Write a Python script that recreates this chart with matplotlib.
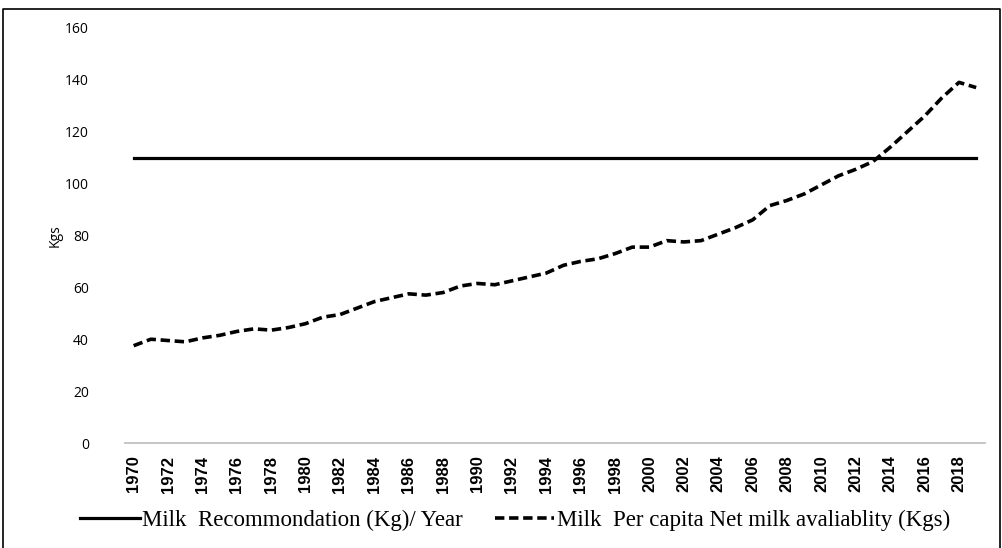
import matplotlib.pyplot as plt
from matplotlib.lines import Line2D

# data
years = list(range(1970, 2020))
recommendation = [110] * len(years)
per_capita = [37.5, 40, 39.5, 39, 40.5, 41.5, 43, 44, 43.5, 44.5,
              46, 48.5, 49.5, 52, 54.5, 56, 57.5, 57, 58, 60.5,
              61.5, 61, 62.5, 64, 65.5, 68.5, 70, 71, 73, 75.5,
              75.5, 78, 77.5, 78, 80.5, 83, 86, 91.5, 93.5, 96,
              99.5, 103, 105.5, 108.5, 114, 120, 126, 133, 139, 137]
yticks = [0, 20, 40, 60, 80, 100, 120, 140, 160]

fig = plt.figure(figsize=(10.02, 5.48), dpi=100)
ax = fig.add_axes([0.1248, 0.1916, 0.858, 0.7575])

x = range(len(years))
ax.plot(x, recommendation, color='black', linewidth=2.3,
        label='Milk  Recommondation (Kg)/ Year')
ax.plot(x, per_capita, color='black', linewidth=2.6, linestyle=(0, (2.6, 1.3)),
        label='Milk  Per capita Net milk avaliablity (Kgs)')

ax.set_xlim(-0.5, len(years) - 0.5)
ax.set_ylim(0, 160)
ax.set_yticks(yticks)
ax.set_yticklabels([str(v) for v in yticks], fontfamily='Open Sans', fontsize=10)
ax.set_xticks(list(x)[::2])
ax.set_xticklabels([str(y) for y in years[::2]], rotation=90,
                   fontfamily='Liberation Sans', fontweight='bold', fontsize=12)
ax.tick_params(axis='both', length=0)
ax.tick_params(axis='y', pad=26)
ax.tick_params(axis='x', pad=9)

for s in ['top', 'right', 'left']:
    ax.spines[s].set_visible(False)
ax.spines['bottom'].set_color('#c0c0c0')
ax.spines['bottom'].set_linewidth(1.3)

ax.set_ylabel('Kgs', fontfamily='Open Sans', fontsize=10, labelpad=2)

fig.legend(loc='center', bbox_to_anchor=(0.514, 0.05), ncol=2, frameon=False,
           prop={'family': 'Liberation Serif', 'size': 16.5},
           handlelength=2.6, handletextpad=0.1, columnspacing=1.4)

# outer frame (left, top, right)
fig.add_artist(Line2D([0.003, 0.003, 0.998, 0.998], [0.0, 0.984, 0.984, 0.0],
                      transform=fig.transFigure, color='black', linewidth=1.2))

fig.savefig('out.png', dpi=100)
